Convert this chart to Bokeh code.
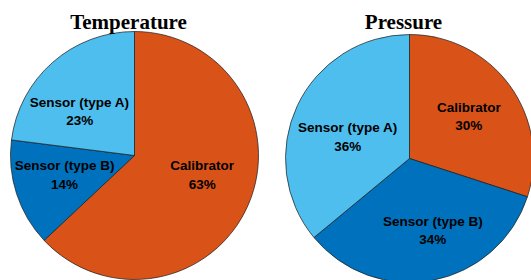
import math
from bokeh.plotting import figure
from bokeh.models import Range1d, ColumnDataSource
from bokeh.core.properties import value
from bokeh.embed import file_html
from bokeh.resources import INLINE

# ---- data ----
categories = ["Calibrator", "Sensor (type B)", "Sensor (type A)"]
colors = ["#D95319", "#0072BD", "#4DBEEE"]
titles = ["Temperature", "Pressure"]
temperature = [63, 14, 23]
pressure = [30, 34, 36]
series = [temperature, pressure]

# ---- layout (figure units = pixels) ----
W, H = 531, 280
centers = [(134, 125), (409, 122)]
R = 124
# label placement: angle nudge (deg) from slice mid-angle and radius fraction
label_nudge = [[7.3, -2.5, 9.8], [-0.7, 7.2, 5.9]]
label_rfrac = [[0.568, 0.585, 0.567], [0.586, 0.608, 0.527]]
LINE_GAP = 18.3

p = figure(width=W, height=H, output_backend="svg", toolbar_location=None,
           x_range=Range1d(0, W), y_range=Range1d(0, H),
           min_border=0, min_border_left=0, min_border_right=0,
           min_border_top=0, min_border_bottom=0)
p.axis.visible = False
p.grid.visible = False
p.outline_line_color = None
p.background_fill_color = "white"
p.border_fill_color = "white"

for k, ((cx, cy), vals, title) in enumerate(zip(centers, series, titles)):
    total = float(sum(vals))
    starts, ends, lx, ly1, ly2, names, pcts = [], [], [], [], [], [], []
    cum = 0.0
    for i, (cat, v) in enumerate(zip(categories, vals)):
        a = cum / total
        b = (cum + v) / total
        cum += v
        starts.append(math.pi / 2 - 2 * math.pi * b)
        ends.append(math.pi / 2 - 2 * math.pi * a)
        mid = math.pi / 2 - 2 * math.pi * (a + b) / 2 + math.radians(label_nudge[k][i])
        rr = label_rfrac[k][i] * R
        x = cx + rr * math.cos(mid)
        y = cy + rr * math.sin(mid)
        lx.append(x)
        ly1.append(y + LINE_GAP / 2)
        ly2.append(y - LINE_GAP / 2)
        names.append(cat)
        pcts.append(f"{round(100 * v / total)}%")
    src = ColumnDataSource(dict(start=starts, end=ends, color=colors,
                                x=lx, y1=ly1, y2=ly2, name=names, pct=pcts))
    p.wedge(x=cx, y=cy, radius=R, start_angle="start", end_angle="end",
            fill_color="color", line_color="#1a1a1a", line_width=0.7,
            source=src)
    for ycol, tcol in (("y1", "name"), ("y2", "pct")):
        p.text(x="x", y=ycol, text=tcol, source=src,
               text_font=value("Liberation Sans"), text_font_style="bold",
               text_font_size="13.5px", text_color="black",
               text_align="center", text_baseline="middle")
    p.text(x=[cx - 6], y=[H - 21], text=[title],
           text_font=value("Liberation Serif"), text_font_style="bold",
           text_font_size="21px", text_color="black",
           text_align="center", text_baseline="alphabetic")

open("out.html", "w").write(file_html(p, INLINE))
